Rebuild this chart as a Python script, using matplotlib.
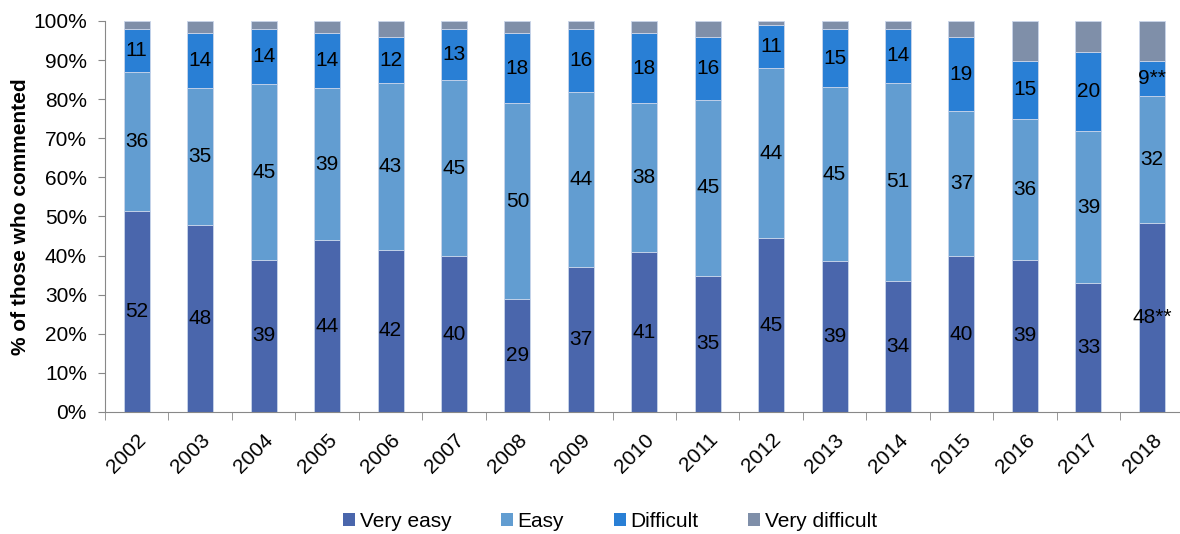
import numpy as np
import matplotlib.pyplot as plt
from matplotlib.patches import Patch

plt.rcParams["font.family"] = ["Liberation Sans", "DejaVu Sans"]

# Data (percent of those who commented)
years = ["2002", "2003", "2004", "2005", "2006", "2007", "2008", "2009", "2010",
         "2011", "2012", "2013", "2014", "2015", "2016", "2017", "2018"]
very_easy = [51.3, 47.9, 38.9, 43.9, 41.5, 39.8, 28.8, 37.2, 40.8,
             34.9, 44.4, 38.5, 33.5, 39.8, 38.9, 32.9, 48.3]
easy = [35.7, 35.0, 44.9, 39.0, 42.6, 45.2, 50.2, 44.7, 38.3,
        45.0, 43.6, 44.6, 50.7, 37.2, 36.1, 39.0, 32.6]
difficult = [10.9, 13.9, 14.1, 13.9, 11.7, 12.9, 17.8, 16.0, 17.7,
             15.9, 10.9, 14.8, 13.7, 18.8, 14.8, 20.1, 8.8]
very_difficult = [2.1, 3.2, 2.1, 3.2, 4.2, 2.1, 3.2, 2.1, 3.2,
                  4.2, 1.1, 2.1, 2.1, 4.2, 10.2, 8.0, 10.3]

lbl_very_easy = ["52", "48", "39", "44", "42", "40", "29", "37", "41",
                 "35", "45", "39", "34", "40", "39", "33", "48**"]
lbl_easy = ["36", "35", "45", "39", "43", "45", "50", "44", "38",
            "45", "44", "45", "51", "37", "36", "39", "32"]
lbl_difficult = ["11", "14", "14", "14", "12", "13", "18", "16", "18",
                 "16", "11", "15", "14", "19", "15", "20", "9**"]

series = ["Very easy", "Easy", "Difficult", "Very difficult"]
colors = ["#4A66AC", "#629DD1", "#297FD5", "#7F8FA9"]

fig = plt.figure(figsize=(11.8, 5.34), dpi=100)
ax = fig.add_axes([0.089, 0.2285, 0.914, 0.7322])

x = np.arange(len(years))
w = 0.41
bottom = np.zeros(len(years))
stacks = [very_easy, easy, difficult, very_difficult]
labels = [lbl_very_easy, lbl_easy, lbl_difficult, None]
for vals, col, lbls in zip(stacks, colors, labels):
    vals = np.array(vals)
    ax.bar(x, vals, w, bottom=bottom, color=col, edgecolor="#c9d5ea", linewidth=0.6)
    if lbls is not None:
        for xi, b, v, t in zip(x, bottom, vals, lbls):
            ax.text(xi, b + v / 2, t, ha="center", va="center", fontsize=15, color="black")
    bottom += vals

ax.set_xlim(-0.5, len(years) - 0.5)
ax.set_ylim(0, 100)
ax.set_yticks(np.arange(0, 101, 10))
ax.set_yticklabels([f"{v}%" for v in range(0, 101, 10)], fontsize=15)
ax.set_xticks(x)
ax.set_xticklabels(years, fontsize=15, rotation=45, ha="right", rotation_mode="anchor")
ax.set_xticks(np.arange(-0.5, len(years), 1), minor=True)
ax.tick_params(axis="x", which="major", length=0, pad=13)
ax.tick_params(axis="x", which="minor", length=6, color="#888888")
ax.tick_params(axis="y", length=5, color="#888888", pad=8)

for s in ["top", "right"]:
    ax.spines[s].set_visible(False)
for s in ["left", "bottom"]:
    ax.spines[s].set_color("#888888")

ax.set_ylabel("% of those who commented", fontsize=15, fontweight="bold", labelpad=2)

handles = [Patch(facecolor=c, label=s) for c, s in zip(colors, series)]
fig.legend(handles=handles, loc="center", bbox_to_anchor=(0.517, 0.024), ncol=4,
           frameon=False, fontsize=15, handlelength=0.58, handleheight=0.6,
           handletextpad=0.2, columnspacing=2.4)

fig.savefig("out.png", dpi=100)
